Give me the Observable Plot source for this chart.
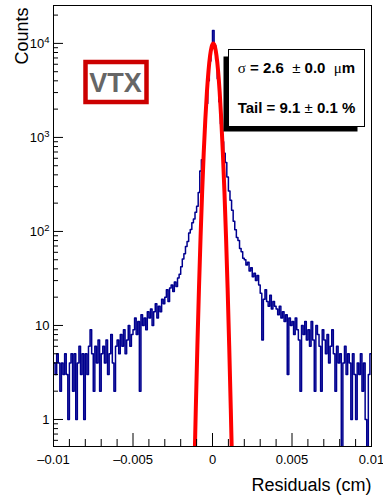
<!DOCTYPE html>
<html><head><meta charset="utf-8">
<script src="https://cdn.jsdelivr.net/npm/d3@7"></script>
<script src="https://cdn.jsdelivr.net/npm/@observablehq/plot@0.6"></script>
<style>body{margin:0;background:#fff} svg{display:block}</style>
</head><body><div id="chart"></div>
<script>
// ---- data ----
const xMin = -0.01, xMax = 0.01;
const counts = [
  4,3,5,4,2,4,3,5,3,1,
  4,5,2,5,1,4,6,3,5,1,
  5,3,6,9,5,2,6,4,7,2,
  5,6,4,7,3,5,8,4,2,6,
  7,5,8,6,9,5,7,10,6,8,
  9,12,8,11,2,13,10,12,9,14,
  12,15,10,14,17,12,16,14,19,17,
  20,24,18,25,27,23,29,26,32,35,
  42,51,58,69,78,96,105,124,136,160,
  185,260,440,580,800,1300,2300,4000,6500,9300,
  13700,9500,6700,4200,2400,1400,900,680,540,380,
  270,215,168,128,104,86,80,66,61,52,
  50,44,47,38,41,33,36,30,34,27,
  22,7,19,24,18,16,21,15,18,16,
  15,13,16,12,14,11,13,3,12,10,
  11,8,12,9,7,2,10,8,11,7,
  9,6,11,7,2,10,8,6,2,9,
  7,5,8,4,6,9,5,2,6,4,
  5,0,4,6,3,5,4,1,5,3,
  1,4,3,5,2,4,1,0,3,5
];
const fitX = [-0.00125,-0.00115,-0.00105,-0.00095,-0.00085,-0.00075,-0.00065,-0.00055,-0.00045,-0.00035,-0.00025,-0.00015,-0.00005,
  0.00005,0.00015,0.00025,0.00035,0.00045,0.00055,0.00065,0.00075,0.00085,0.00095,0.00105,0.00115,0.00125,0.00135];
const fitY = [0.037,0.24,1.3,6.1,25,88,267,697,1570,3060,5140,7440,9290,
  10000,9290,7440,5140,3060,1570,697,267,88,25,6.1,1.3,0.24,0.037];
const xMajor = [-0.01,-0.005,0,0.005,0.01];
const xMajorLabels = ["\u20130.01","\u20130.005","0","0.005","0.01"];
const xMinor = [-0.009,-0.008,-0.007,-0.006,-0.004,-0.003,-0.002,-0.001,0.001,0.002,0.003,0.004,0.006,0.007,0.008,0.009];
const yMajor = [1,10,100,1000,10000];
const yMajorLabels = ["1","10","10^2","10^3","10^4"];
const yMinor = [0.6,0.7,0.8,0.9,2,3,4,5,6,7,8,9,20,30,40,50,60,70,80,90,
  200,300,400,500,600,700,800,900,2000,3000,4000,5000,6000,7000,8000,9000,20000];
const statsLines = ["\u03c3 = 2.6 \u00a0\u00b1 0.0 \u00a0\u03bcm", "Tail = 9.1 \u00b1 0.1 %"];
const tagText = "VTX";
const xTitle = "Residuals (cm)";
const yTitle = "Counts";

// ---- build ----
const binW = (xMax - xMin) / counts.length;
const hist = counts.map((c, i) => ({x: xMin + i * binW, y: c}));
hist.push({x: xMax, y: counts[counts.length - 1]});
const floor = 0.3;
const fit = fitX.map((x, i) => ({x, y: fitY[i]}));

const chart = Plot.plot({
  width: 383, height: 496,
  marginLeft: 53, marginRight: 12, marginTop: 5, marginBottom: 50,
  style: {fontFamily: "'Liberation Sans', Arial, Helvetica, sans-serif", fontSize: "13px", background: "white", color: "black"},
  x: {domain: [xMin, xMax]},
  y: {type: "log", domain: [0.516, 25300]},
  marks: [
    Plot.line(hist, {x: "x", y: d => Math.max(d.y, floor), curve: "step-after", stroke: "#00008f", strokeWidth: 1.5, clip: true}),
    Plot.line(fit, {x: "x", y: "y", curve: "natural", stroke: "#ff0000", strokeWidth: 4, clip: true}),
    Plot.tickX(xMajor, {x: d => d, insetTop: 428, stroke: "black"}),
    Plot.tickX(xMinor, {x: d => d, insetTop: 434, stroke: "black"}),
    Plot.tickY(yMajor, {y: d => d, insetRight: 308, stroke: "black"}),
    Plot.tickY(yMinor, {y: d => d, insetRight: 313, stroke: "black"}),
    Plot.axisX(xMajor, {tickSize: 0, tickPadding: 8, tickFormat: d => xMajorLabels[xMajor.indexOf(d)], fontSize: 13, label: null}),
    Plot.axisY(yMajor, {tickSize: 0, tickPadding: 4, tickFormat: d => yMajorLabels[yMajor.indexOf(d)], fontSize: 13, label: null}),
    Plot.frame({stroke: "black", strokeWidth: 1}),
    Plot.text([xTitle], {frameAnchor: "bottom-right", textAnchor: "end", lineAnchor: "bottom", dy: 44, fontSize: 18}),
    Plot.text([yTitle], {frameAnchor: "top-left", rotate: -90, textAnchor: "end", lineAnchor: "bottom", dx: -26, dy: 2, fontSize: 18}),
    Plot.frame({stroke: "#cc0000", strokeWidth: 4.5, insetLeft: 32, insetRight: 225, insetTop: 56.5, insetBottom: 344.5}),
    Plot.text([tagText], {frameAnchor: "top-left", dx: 62, dy: 78, textAnchor: "middle", lineAnchor: "middle", fontSize: 27, fontWeight: "bold", fill: "#666666"}),
    Plot.frame({fill: "black", stroke: "none", insetLeft: 170, insetRight: 14, insetTop: 51, insetBottom: 315}),
    Plot.frame({fill: "white", stroke: "black", strokeWidth: 1, insetLeft: 175, insetRight: 7, insetTop: 44, insetBottom: 320}),
    Plot.text([statsLines[0]], {frameAnchor: "top-left", dx: 243, dy: 63, textAnchor: "middle", lineAnchor: "middle", fontSize: 15, fontWeight: "bold"}),
    Plot.text([statsLines[1]], {frameAnchor: "top-left", dx: 243, dy: 103, textAnchor: "middle", lineAnchor: "middle", fontSize: 15, fontWeight: "bold"})
  ]
});
document.getElementById("chart").append(chart);
chart.querySelectorAll("text").forEach(t => {
  const s = t.textContent;
  if (statsLines.includes(s)) {
    t.innerHTML = s
      .replace(/([\u03c3\u03bc])/g, "<tspan font-weight='normal' font-family='Liberation Serif, serif'>$1</tspan>")
      .replace(/(\u00b1)/g, "<tspan font-weight='normal'>$1</tspan>");
  } else if (/^10\^\d$/.test(s)) {
    const p = s.split("^");
    t.innerHTML = p[0] + "<tspan font-size='9.5' dy='-5'>" + p[1] + "</tspan>";
  }
});
</script>
</body></html>
